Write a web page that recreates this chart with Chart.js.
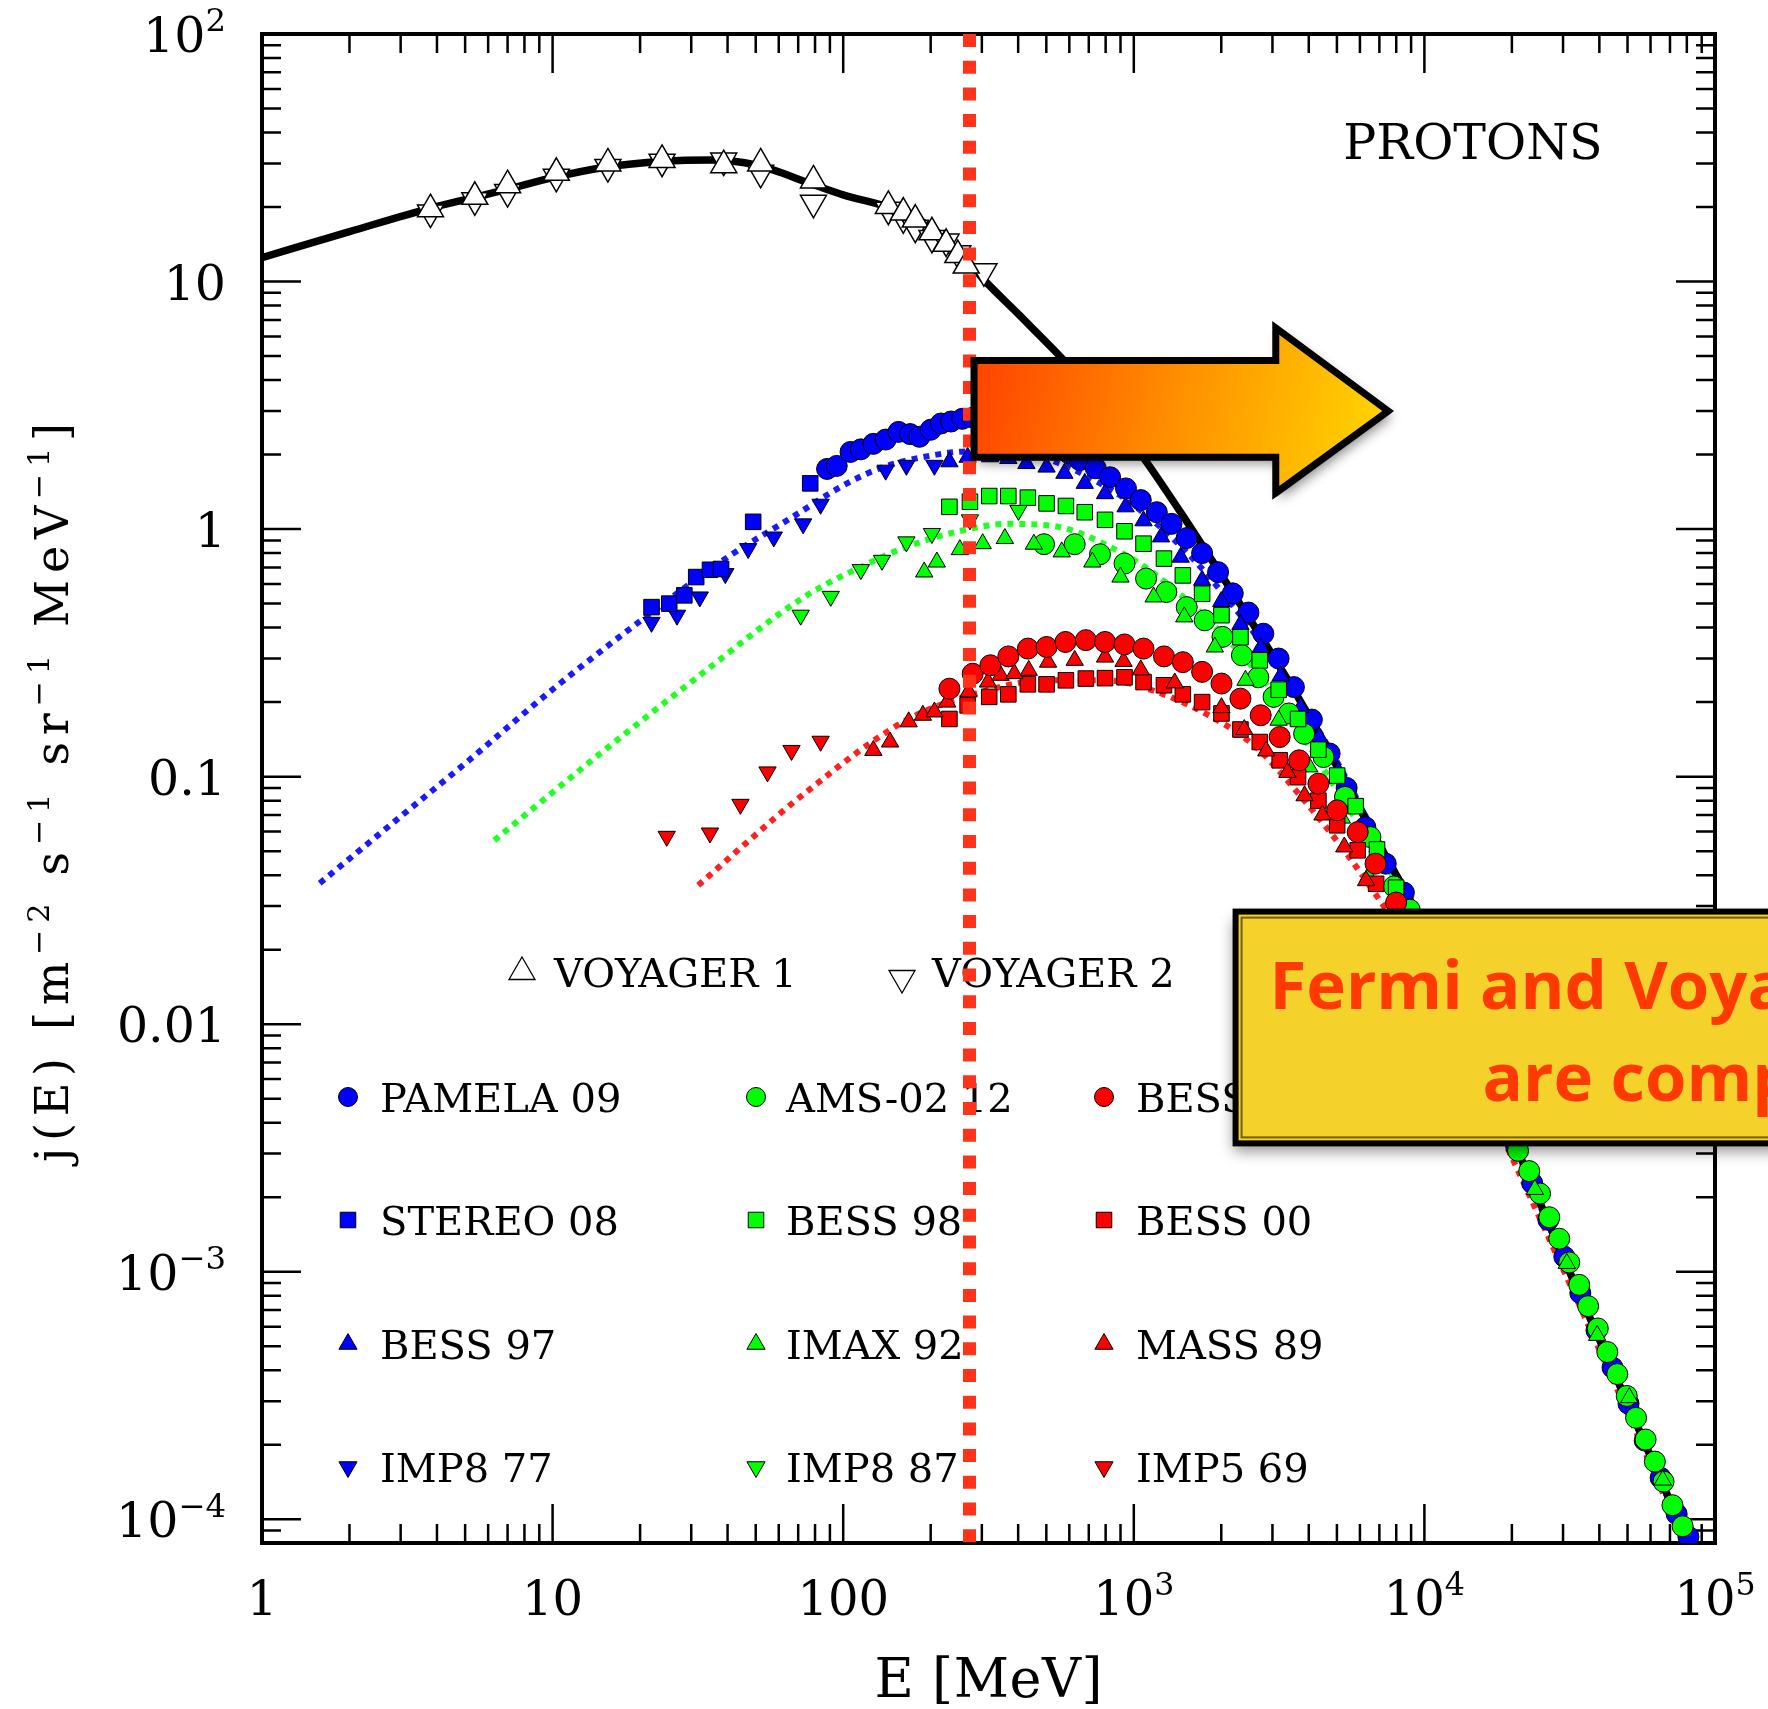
<!DOCTYPE html>
<html>
<head>
<meta charset="utf-8">
<script src="https://cdn.jsdelivr.net/npm/chart.js@4.4.1/dist/chart.umd.min.js"></script>
<style>
html,body{margin:0;padding:0;background:#fff;}
canvas{display:block;}
</style>
</head>
<body>
<canvas id="c" width="1768" height="1709"></canvas>
<script>
// ---------------- DATA (E in MeV, j in m^-2 s^-1 sr^-1 MeV^-1) ----------------
const xTickValues = [1, 10, 100, 1000, 10000, 100000];
const xTickLabels = ['1', '10', '100', '10³', '10⁴', '10⁵'];
const yTickValues = [100, 10, 1, 0.1, 0.01, 0.001, 0.0001];
const yTickLabels = ['10²', '10', '1', '0.1', '0.01', '10⁻³', '10⁻⁴'];

// local interstellar spectrum (black solid)
const lisE = [1, 2, 3.8, 5.4, 7, 10, 15, 24, 35, 50, 80, 100, 150, 200, 270, 304, 400, 583, 800, 1094, 1500, 2202, 3000, 3733, 4730, 7000, 10000, 20000, 30000, 50000, 100000];
const lisJ = [12.5, 15.9, 19.8, 21.9, 23.6, 26.3, 28.9, 30.6, 31.0, 29.6, 24.5, 22.4, 19.6, 16.6, 12.0, 10.2, 7.4, 4.72, 3.1, 1.90, 1.10, 0.548, 0.31, 0.203, 0.124, 0.053, 0.0245, 0.0035, 0.00115, 0.000295, 0.000045];

// modulated model spectra (dotted)
const blueModE = [1.58, 3, 5, 10, 21.4, 40, 65.4, 100, 133.6, 200, 273, 400, 550, 750, 1000, 1500, 2000, 3000, 5000, 7000, 10000, 20000, 50000, 100000];
const blueModJ = [0.0371, 0.069, 0.113, 0.225, 0.451, 0.77, 1.1, 1.5, 1.76, 1.98, 2.06, 2.04, 1.85, 1.55, 1.25, 0.82, 0.56, 0.3, 0.115, 0.054, 0.0245, 0.0034, 0.00029, 0.000044];
const greenModE = [6.3, 14.6, 32.7, 73.4, 120, 165, 250, 370, 553, 829, 1200, 2000, 3000, 5000, 10000, 20000, 50000, 100000];
const greenModJ = [0.0553, 0.124, 0.261, 0.532, 0.72, 0.847, 0.98, 1.05, 1.02, 0.847, 0.65, 0.38, 0.22, 0.088, 0.0235, 0.0034, 0.00029, 0.000044];
const redModE = [31.7, 73.4, 165, 300, 500, 800, 1200, 2100, 2700, 3700, 5000, 6200, 10000, 20000, 50000, 100000];
const redModJ = [0.0364, 0.0853, 0.169, 0.22, 0.245, 0.245, 0.22, 0.16, 0.128, 0.085, 0.055, 0.039, 0.0165, 0.0029, 0.00027, 0.000042];

// Voyager
const voy1E = [3.8, 5.4, 7.0, 10.3, 15.5, 23.8, 38.8, 52, 79, 143, 161, 177, 202, 226, 248, 265];
const voy1J = [19.6, 22.0, 24.5, 27.5, 30.0, 31.0, 29.5, 30.0, 25.6, 20.2, 19.0, 17.8, 15.8, 14.2, 12.8, 11.6];
const voy2E = [3.8, 5.4, 7.0, 10.3, 15.5, 23.8, 38.8, 52, 79, 143, 161, 177, 202, 226, 248, 305];
const voy2J = [19.0, 21.3, 23.0, 26.5, 29.0, 30.5, 30.8, 27.5, 20.8, 19.5, 18.0, 16.5, 15.0, 14.5, 13.0, 11.0];

// blue group
const pamelaE = [88, 95, 106, 115, 127, 140, 155, 170, 183, 200, 217, 235, 257, 280, 310, 345, 385, 430, 480, 540, 600, 652, 740, 829, 940, 1057, 1200, 1348, 1520, 1718, 1950, 2191, 2480, 2791, 3150, 3556, 4100, 4719, 5400, 6264, 7363, 8500, 9600, 10900, 12400, 14100, 16000, 18200, 20700, 23500, 26700, 30300, 34400, 39100, 44400, 50400, 57300, 65000, 73800, 81000];
const pamelaJ = [1.75, 1.80, 2.05, 2.10, 2.21, 2.30, 2.47, 2.42, 2.36, 2.52, 2.67, 2.72, 2.79, 2.82, 2.80, 2.74, 2.64, 2.50, 2.33, 2.15, 2.02, 1.90, 1.76, 1.62, 1.46, 1.31, 1.17, 1.05, 0.92, 0.80, 0.67, 0.55, 0.46, 0.378, 0.30, 0.23, 0.17, 0.124, 0.09, 0.0625, 0.0445, 0.034, 0.026, 0.018, 0.0127, 0.009, 0.0064, 0.0045, 0.0032, 0.00228, 0.00162, 0.00115, 0.00082, 0.00058, 0.00041, 0.000293, 0.000208, 0.000147, 0.000105, 0.000085];
const stereoE = [21.9, 25.2, 28.4, 31.2, 34.8, 38, 49, 77];
const stereoJ = [0.484, 0.50, 0.54, 0.64, 0.685, 0.69, 1.07, 1.53];
const bess97E = [232, 268, 320, 370, 427, 501, 577, 678, 796, 937, 1080, 1241, 1450, 1718, 2000, 2328, 2733, 3200, 3750, 4345, 5050, 5900, 6900, 8000];
const bess97J = [1.87, 1.95, 1.96, 1.93, 1.84, 1.78, 1.68, 1.53, 1.39, 1.23, 1.08, 0.93, 0.77, 0.621, 0.51, 0.412, 0.332, 0.255, 0.19, 0.1446, 0.105, 0.075, 0.052, 0.037];
const imp877E = [21.9, 26.8, 32.1, 39.3, 47.1, 57.7, 72.8, 83.6, 140, 165, 206];
const imp877J = [0.42, 0.449, 0.532, 0.661, 0.834, 0.929, 1.05, 1.26, 1.73, 1.81, 1.81];

// green group
const amsE = [491, 626, 765, 929, 1102, 1294, 1521, 1754, 2019, 2355, 2682, 3027, 3417, 3855, 4496, 5330, 6520, 7850, 8900, 9900, 11400, 13100, 15000, 17200, 19300, 21000, 22950, 25000, 26900, 29100, 31500, 34100, 36600, 39500, 42600, 46100, 49700, 53500, 57700, 62100, 66500, 71400, 77400];
const amsJ = [0.869, 0.869, 0.791, 0.726, 0.631, 0.557, 0.484, 0.428, 0.367, 0.309, 0.252, 0.21, 0.18, 0.149, 0.12, 0.0828, 0.057, 0.036, 0.029, 0.0225, 0.0158, 0.0109, 0.0075, 0.0052, 0.0038, 0.00308, 0.00255, 0.00207, 0.00166, 0.00136, 0.00109, 0.000885, 0.000726, 0.00059, 0.000474, 0.000386, 0.000315, 0.000257, 0.00021, 0.000171, 0.000142, 0.000114, 0.0000937];
const bess98E = [232, 273, 318, 370, 432, 501, 584, 678, 796, 929, 1080, 1270, 1475, 1718, 2003, 2328, 2713, 3151, 3675, 4318, 5010, 5800, 6870, 7990];
const bess98J = [1.23, 1.29, 1.36, 1.36, 1.34, 1.27, 1.24, 1.17, 1.09, 0.98, 0.873, 0.76, 0.65, 0.548, 0.449, 0.366, 0.295, 0.2245, 0.171, 0.1285, 0.101, 0.076, 0.0508, 0.0356];
const imaxE = [190, 210, 252, 302, 360, 453, 565, 720, 900, 1170, 1492, 1900, 2423, 3151, 4015, 5200, 6420, 24000, 30900, 39300, 50700, 66100];
const imaxJ = [0.671, 0.736, 0.826, 0.873, 0.916, 0.869, 0.809, 0.736, 0.64, 0.532, 0.442, 0.334, 0.245, 0.169, 0.1095, 0.068, 0.0396, 0.00215, 0.00108, 0.000553, 0.00031, 0.000144];
const imp887E = [71.4, 90.6, 115, 136, 165, 202, 273, 401];
const imp887J = [0.449, 0.535, 0.686, 0.748, 0.888, 0.96, 1.09, 1.19];

// red group
const bessRE = [232, 279, 321, 370, 432, 501, 582, 684, 796, 929, 1080, 1270, 1475, 1718, 2003, 2328, 2733, 3177, 3706, 4318, 5010, 5895, 6790, 7990];
const bessRJ = [0.2266, 0.2605, 0.2817, 0.306, 0.329, 0.334, 0.35, 0.356, 0.35, 0.342, 0.329, 0.306, 0.29, 0.265, 0.2377, 0.2066, 0.177, 0.1446, 0.1164, 0.0937, 0.0731, 0.0597, 0.0445, 0.031];
const bess00E = [232, 268, 318, 370, 432, 501, 584, 684, 796, 929, 1080, 1270, 1475, 1718, 2003, 2328, 2713, 3177, 3675, 4318, 5010, 5895, 6820];
const bess00J = [0.171, 0.194, 0.21, 0.215, 0.236, 0.236, 0.245, 0.249, 0.25, 0.252, 0.241, 0.234, 0.215, 0.2, 0.18, 0.155, 0.138, 0.1164, 0.0995, 0.08, 0.0636, 0.0504, 0.0369];
const massE = [127, 145, 168, 188, 206, 228, 270, 315, 348, 388, 435, 507, 626, 796, 922, 1057, 1383, 2003, 2400, 2857, 3380, 3870, 4460, 5300, 6300, 7500];
const massJ = [0.1276, 0.138, 0.1665, 0.177, 0.1825, 0.20, 0.22, 0.241, 0.2566, 0.2606, 0.2687, 0.29, 0.295, 0.304, 0.292, 0.27, 0.239, 0.19, 0.155, 0.127, 0.104, 0.0837, 0.07, 0.052, 0.038, 0.027];
const imp569E = [24.7, 34.8, 44.3, 54.9, 66.4, 83.6];
const imp569J = [0.0574, 0.0592, 0.0773, 0.1045, 0.1276, 0.139];

// vertical marker at E = 272 MeV
const cutE = [272, 272];
const cutJ = [100, 0.0000802];

// annotation texts
const panelLabel = 'PROTONS';
const xTitle = 'E [MeV]';
const yTitle = 'j(E) [m⁻² s⁻¹ sr⁻¹ MeV⁻¹]';
const noteLines = ['Fermi and Voyager data', 'are compatible'];

// arrow / note box anchor in data units
const arrowE = { tail: 282, neck: 3080, tip: 7500 };
const arrowJ = { bodyTop: 4.8, bodyBottom: 1.95, headTop: 6.5, headBottom: 1.40, tip: 3.0 };
const boxE = [2240, 250000];
const boxJ = [0.0285, 0.00330];

// ---------------- helpers ----------------
const BLUE = '#0000ff', GREEN = '#00ff00', RED = '#ff0000';
const pts = (xs, ys) => xs.map((x, i) => ({ x, y: ys[i] }));

function markerSet(label, xs, ys, style, color, r, order, rot, lw) {
  return {
    label, data: pts(xs, ys), showLine: false,
    pointStyle: style, pointRadius: r, pointRotation: rot || 0,
    pointBackgroundColor: color, pointBorderColor: '#000', pointBorderWidth: lw || 1,
    backgroundColor: color, borderColor: '#000', order
  };
}
function lineSet(label, xs, ys, color, width, dash, order, smooth) {
  return {
    label, data: pts(xs, ys), showLine: true, pointRadius: 0,
    borderColor: color, borderWidth: width, borderDash: dash, borderCapStyle: 'butt',
    cubicInterpolationMode: smooth ? 'monotone' : 'default', tension: 0, order
  };
}

const SUP = { '⁰': '0', '¹': '1', '²': '2', '³': '3', '⁴': '4', '⁵': '5', '⁶': '6', '⁷': '7', '⁸': '8', '⁹': '9', '⁻': '−' };
const SERIF = '"DejaVu Serif", serif';
function richItems(ctx, text, size) {
  const items = [];
  for (const ch of text) {
    const sup = ch in SUP;
    const s = sup ? size * 0.66 : size;
    const c = sup ? SUP[ch] : ch;
    ctx.font = s + 'px ' + SERIF;
    items.push({ c, s, sup, w: ctx.measureText(c).width });
  }
  return items;
}
function drawRich(ctx, text, x, y, size, align, spacing, target) {
  const items = richItems(ctx, text, size);
  const nat = items.reduce((a, it) => a + it.w, 0);
  let sp = spacing || 0;
  if (target) sp = (target - nat) / (items.length - 1);
  const total = nat + sp * (items.length - 1);
  let cx = align === 'right' ? x - total : align === 'center' ? x - total / 2 : x;
  ctx.textAlign = 'left';
  ctx.textBaseline = 'alphabetic';
  for (const it of items) {
    ctx.font = it.s + 'px ' + SERIF;
    ctx.fillText(it.c, cx, it.sup ? y - size * 0.42 : y);
    cx += it.w + sp;
  }
}
function drawMarker(ctx, style, x, y, r, fill, stroke, lw, rot) {
  ctx.save();
  ctx.translate(x, y);
  if (rot) ctx.rotate(rot * Math.PI / 180);
  ctx.beginPath();
  if (style === 'circle') ctx.arc(0, 0, r, 0, Math.PI * 2);
  else if (style === 'rect') { const s = r * Math.SQRT1_2; ctx.rect(-s, -s, 2 * s, 2 * s); }
  else {
    for (let k = 0; k < 3; k++) {
      const ang = -Math.PI / 2 + k * 2 * Math.PI / 3;
      const px = r * Math.cos(ang), py = r * Math.sin(ang);
      if (k) ctx.lineTo(px, py); else ctx.moveTo(px, py);
    }
    ctx.closePath();
  }
  ctx.fillStyle = fill; ctx.fill();
  ctx.lineWidth = lw; ctx.strokeStyle = stroke; ctx.stroke();
  ctx.restore();
}

// ---------------- datasets ----------------
const datasets = [
  lineSet('blue model', blueModE, blueModJ, '#1a1aff', 6, [6, 6], 40, true),
  lineSet('green model', greenModE, greenModJ, '#22ff22', 6, [6, 6], 40, true),
  lineSet('red model', redModE, redModJ, '#ff2020', 6, [6, 6], 40, true),
  lineSet('LIS', lisE, lisJ, '#000000', 7.5, [], 30, true),
  markerSet('VOYAGER 1', voy1E, voy1J, 'triangle', '#ffffff', 15, 20, 0, 1.5),
  markerSet('VOYAGER 2', voy2E, voy2J, 'triangle', '#ffffff', 15, 20, 180, 1.5),
  markerSet('PAMELA 09', pamelaE, pamelaJ, 'circle', BLUE, 10.5, 9),
  markerSet('STEREO 08', stereoE, stereoJ, 'rect', BLUE, 11, 8),
  markerSet('BESS 97', bess97E, bess97J, 'triangle', BLUE, 10, 8),
  markerSet('IMP8 77', imp877E, imp877J, 'triangle', BLUE, 10, 8, 180),
  markerSet('AMS-02 12', amsE, amsJ, 'circle', GREEN, 10.5, 6),
  markerSet('BESS 98', bess98E, bess98J, 'rect', GREEN, 11, 5),
  markerSet('IMAX 92', imaxE, imaxJ, 'triangle', GREEN, 10, 5),
  markerSet('IMP8 87', imp887E, imp887J, 'triangle', GREEN, 10, 5, 180),
  markerSet('BESS 99', bessRE, bessRJ, 'circle', RED, 10.5, 3),
  markerSet('BESS 00', bess00E, bess00J, 'rect', RED, 11, 4),
  markerSet('MASS 89', massE, massJ, 'triangle', RED, 10, 3.5),
  markerSet('IMP5 69', imp569E, imp569J, 'triangle', RED, 10, 3, 180),
  lineSet('cut', cutE, cutJ, '#ff3319', 13, [13, 13.7], 0, false)
];

// legend layout: [dataset label, marker x, text x, row y, style, fill, rot, r]
const legendLayout = [
  ['VOYAGER 1', 522, 554, 972, 'triangle', '#fff', 0, 15],
  ['VOYAGER 2', 902, 932, 978, 'triangle', '#fff', 180, 15],
  ['PAMELA 09', 348, 380, 1097, 'circle', BLUE, 0, 9.5],
  ['AMS-02 12', 756, 786, 1097, 'circle', GREEN, 0, 9.5],
  ['BESS 99', 1104, 1136, 1097, 'circle', RED, 0, 9.5],
  ['STEREO 08', 348, 380, 1220, 'rect', BLUE, 0, 11],
  ['BESS 98', 756, 786, 1220, 'rect', GREEN, 0, 11],
  ['BESS 00', 1104, 1136, 1220, 'rect', RED, 0, 11],
  ['BESS 97', 348, 380, 1344, 'triangle', BLUE, 0, 10.5],
  ['IMAX 92', 756, 786, 1344, 'triangle', GREEN, 0, 10.5],
  ['MASS 89', 1104, 1136, 1344, 'triangle', RED, 0, 10.5],
  ['IMP8 77', 348, 380, 1467, 'triangle', BLUE, 180, 10.5],
  ['IMP8 87', 756, 786, 1467, 'triangle', GREEN, 180, 10.5],
  ['IMP5 69', 1104, 1136, 1467, 'triangle', RED, 180, 10.5]
];

// ---------------- plugins ----------------
const framePlugin = {
  id: 'frameAndText',
  beforeDatasetsDraw(chart) {
    const { ctx, chartArea: a } = chart;
    const sx = chart.scales.x, sy = chart.scales.y;
    ctx.save();
    ctx.strokeStyle = '#000';
    ctx.lineWidth = 2.5;
    ctx.beginPath();
    for (let d = 0; d <= 5; d++) for (let k = 1; k <= 9; k++) {
      const v = k * Math.pow(10, d);
      if (v < sx.min * 0.9999 || v > sx.max * 1.0001) continue;
      const px = sx.getPixelForValue(v);
      const len = k === 1 ? 39 : 19;
      ctx.moveTo(px, a.bottom); ctx.lineTo(px, a.bottom - len);
      ctx.moveTo(px, a.top); ctx.lineTo(px, a.top + len);
    }
    for (let d = -5; d <= 2; d++) for (let k = 1; k <= 9; k++) {
      const v = k * Math.pow(10, d);
      if (v < sy.min || v > sy.max * 1.0001) continue;
      const py = sy.getPixelForValue(v);
      const len = k === 1 ? 39 : 19;
      ctx.moveTo(a.left, py); ctx.lineTo(a.left + len, py);
      ctx.moveTo(a.right, py); ctx.lineTo(a.right - len, py);
    }
    ctx.stroke();
    ctx.lineWidth = 4;
    ctx.strokeRect(a.left, a.top, a.right - a.left, a.bottom - a.top);

    ctx.fillStyle = '#000';
    xTickValues.forEach((v, i) => drawRich(ctx, xTickLabels[i], sx.getPixelForValue(v), a.bottom + 72, 48, 'center', 0));
    yTickValues.forEach((v, i) => drawRich(ctx, yTickLabels[i], a.left - 36, sy.getPixelForValue(v) + 18, 49, 'right', 0));

    drawRich(ctx, xTitle, (a.left + a.right) / 2, 1697, 54, 'center', 0, 228);
    ctx.save();
    ctx.translate(68, (a.top + a.bottom) / 2 + 4);
    ctx.rotate(-Math.PI / 2);
    drawRich(ctx, yTitle, 0, 0, 46, 'center', 0, 739);
    ctx.restore();

    ctx.font = '49px ' + SERIF;
    ctx.textAlign = 'center';
    ctx.textBaseline = 'alphabetic';
    ctx.fillText(panelLabel, 1473, 159);

    for (const L of legendLayout) {
      const ds = chart.data.datasets.find(d => d.label === L[0]);
      const lw = L[5] === '#fff' ? 1.3 : 1;
      drawMarker(ctx, L[4], L[1], L[3], L[7], L[5], '#000', lw, L[6]);
      ctx.fillStyle = '#000';
      ctx.font = '40px ' + SERIF;
      ctx.textAlign = 'left';
      ctx.textBaseline = 'alphabetic';
      ctx.fillText(ds ? ds.label : L[0], L[2], (L[0].startsWith('VOYAGER') ? 972 : L[3]) + 15);
    }
    ctx.restore();
  }
};

const overlayPlugin = {
  id: 'overlay',
  afterDraw(chart) {
    const { ctx } = chart;
    const sx = chart.scales.x, sy = chart.scales.y;
    const X = v => sx.getPixelForValue(v), Y = v => sy.getPixelForValue(v);
    ctx.save();
    const xt = X(arrowE.tail), xn = X(arrowE.neck), xp = X(arrowE.tip);
    const ybt = Y(arrowJ.bodyTop), ybb = Y(arrowJ.bodyBottom);
    const yht = Y(arrowJ.headTop), yhb = Y(arrowJ.headBottom), ytp = Y(arrowJ.tip);
    const arrowPath = () => {
      ctx.beginPath();
      ctx.moveTo(xt, ybt); ctx.lineTo(xn, ybt); ctx.lineTo(xn, yht);
      ctx.lineTo(xp, ytp); ctx.lineTo(xn, yhb); ctx.lineTo(xn, ybb);
      ctx.lineTo(xt, ybb); ctx.closePath();
    };
    const g = ctx.createLinearGradient(xt, ybt, xp, ybb);
    g.addColorStop(0, '#ff4200');
    g.addColorStop(0.45, '#ff8a00');
    g.addColorStop(1, '#ffd800');
    ctx.save();
    ctx.shadowColor = 'rgba(0,0,0,0.45)';
    ctx.shadowBlur = 12; ctx.shadowOffsetX = 4; ctx.shadowOffsetY = 6;
    arrowPath(); ctx.fillStyle = g; ctx.fill();
    ctx.restore();
    arrowPath();
    ctx.lineJoin = 'miter';
    ctx.strokeStyle = '#000'; ctx.lineWidth = 7; ctx.stroke();
    ctx.strokeStyle = 'rgba(0,0,0,0.5)'; ctx.lineWidth = 2;
    ctx.save(); ctx.translate(2, 2); arrowPath(); ctx.stroke(); ctx.restore();

    const bx0 = X(boxE[0]), bx1 = X(boxE[1]);
    const by0 = Y(boxJ[0]), by1 = Y(boxJ[1]);
    ctx.save();
    ctx.shadowColor = 'rgba(0,0,0,0.45)';
    ctx.shadowBlur = 14; ctx.shadowOffsetX = -2; ctx.shadowOffsetY = 8;
    ctx.fillStyle = '#f5d12c';
    ctx.fillRect(bx0, by0, bx1 - bx0, by1 - by0);
    ctx.restore();
    ctx.strokeStyle = '#000'; ctx.lineWidth = 6;
    ctx.strokeRect(bx0, by0, bx1 - bx0, by1 - by0);
    ctx.strokeStyle = 'rgba(0,0,0,0.55)'; ctx.lineWidth = 2;
    ctx.strokeRect(bx0 + 6, by0 + 6, bx1 - bx0, by1 - by0 - 12);
    ctx.fillStyle = '#ff3a00';
    ctx.font = 'bold 67px "Open Sans", "Noto Sans", sans-serif';
    ctx.textAlign = 'left';
    ctx.textBaseline = 'alphabetic';
    ctx.fillText(noteLines[0], bx0 + 34, by0 + 97);
    ctx.fillText(noteLines[1], bx0 + 247, by0 + 189);
    ctx.restore();
  }
};

new Chart(document.getElementById('c'), {
  type: 'scatter',
  data: { datasets },
  options: {
    responsive: false,
    animation: false,
    devicePixelRatio: 1,
    events: [],
    layout: { padding: { left: 262, right: 53, top: 34, bottom: 166 } },
    scales: {
      x: { type: 'logarithmic', min: 1, max: 100000, display: false },
      y: { type: 'logarithmic', min: 0.0000802, max: 100, display: false }
    },
    plugins: { legend: { display: false }, tooltip: { enabled: false } }
  },
  plugins: [framePlugin, overlayPlugin]
});
</script>
</body>
</html>
